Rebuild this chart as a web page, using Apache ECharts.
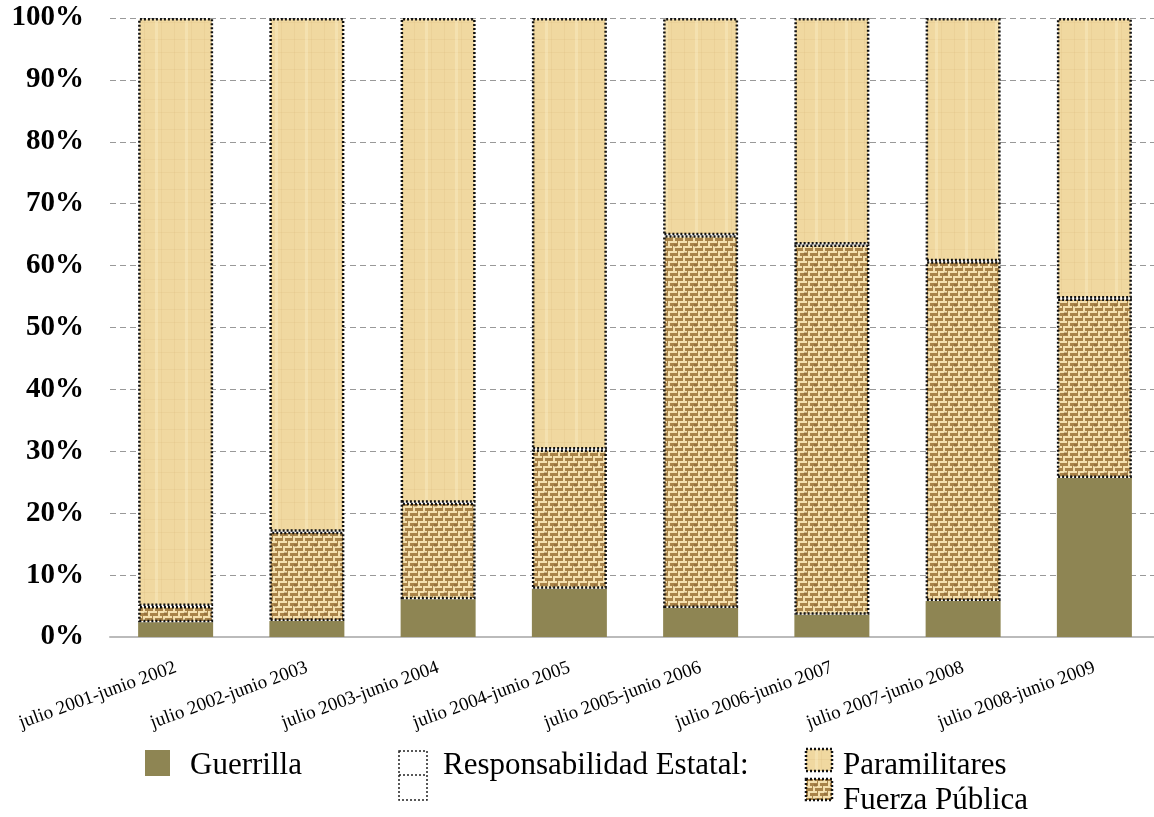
<!DOCTYPE html>
<html><head><meta charset="utf-8">
<script src="https://cdn.jsdelivr.net/npm/echarts@6/dist/echarts.min.js"></script>
<style>html,body{margin:0;padding:0;background:#fff}#c{width:1154px;height:817px}</style>
</head><body><div id="c"></div>
<script>
var categories = ['julio 2001-junio 2002','julio 2002-junio 2003','julio 2003-junio 2004','julio 2004-junio 2005','julio 2005-junio 2006','julio 2006-junio 2007','julio 2007-junio 2008','julio 2008-junio 2009'];
var guerrilla = [2.4, 2.6, 6.1, 7.8, 4.7, 3.6, 5.8, 25.7];
var fuerzaPublica = [2.6, 14.4, 15.6, 22.5, 60.2, 59.8, 54.9, 29.0];
var paramilitares = [95.0, 83.0, 78.3, 69.7, 35.1, 36.6, 39.3, 45.3];
var yTicks = [0,10,20,30,40,50,60,70,80,90,100];

function weave(){
  var S = 20, c = document.createElement('canvas'); c.width = S; c.height = S;
  var g = c.getContext('2d');
  g.fillStyle = '#A98349'; g.fillRect(0,0,S,S);
  function r(x,y,w,h){
    for (var dx=-S; dx<=S; dx+=S) for (var dy=-S; dy<=S; dy+=S) g.fillRect(x+dx,y+dy,w,h);
  }
  g.fillStyle = '#F4E0AE';
  for (var row=0; row<4; row++){
    var y0 = row*5, x0 = row*5;
    r(x0, y0+1, 7, 2);
    r(x0+8, y0+1, 2, 7);
    r(x0+10, y0+1, 7, 2);
    r(x0+18, y0+1, 2, 7);
  }
  g.fillStyle = 'rgba(110,75,35,0.3)';
  g.fillRect(4,12,3,3); g.fillRect(14,4,3,3);
  return c;
}
function parch(){
  var c = document.createElement('canvas'); c.width = 30; c.height = 30;
  var g = c.getContext('2d');
  g.fillStyle = '#F0D8A0'; g.fillRect(0,0,30,30);
  g.fillStyle = 'rgba(215,180,115,0.18)';
  g.fillRect(0,9,30,1); g.fillRect(0,22,30,1); g.fillRect(11,0,1,30); g.fillRect(24,0,1,30);
  g.fillStyle = 'rgba(255,245,215,0.3)';
  g.fillRect(5,0,3,30);
  return c;
}
var weaveImg = weave(), parchImg = parch();
var olive = '#8E8553';
var serif = '"Liberation Serif","Times New Roman",serif';

var chart = echarts.init(document.getElementById('c'));
chart.setOption({
  animation: false,
  grid: {left: 110, top: 18, width: 1050, height: 619, outerBoundsMode: 'none', containLabel: false},
  xAxis: {
    type: 'category', data: categories,
    axisLine: {lineStyle: {color: '#BBBBBB', width: 2}},
    axisTick: {show: false},
    axisLabel: {rotate: 20, interval: 0, fontFamily: serif, fontSize: 19, color: '#000', margin: 30, align: 'right', verticalAlign: 'middle'}
  },
  yAxis: {
    type: 'value', min: 0, max: 100, interval: 10,
    axisLine: {show: false}, axisTick: {show: false},
    axisLabel: {formatter: '{value}%', fontFamily: serif, fontWeight: 'bold', fontSize: 29, color: '#000', margin: 26},
    splitLine: {lineStyle: {type: [6, 4], color: '#999999', width: 1}}
  },
  series: [
    {name: 'Guerrilla', type: 'bar', stack: 's', data: guerrilla, barWidth: 75,
     itemStyle: {color: olive}},
    {name: 'Fuerza Pública', type: 'bar', stack: 's', data: fuerzaPublica, barWidth: 75,
     itemStyle: {color: {image: weaveImg, repeat: 'repeat'}, borderColor: '#111', borderWidth: 2.5, borderType: [2, 2]}},
    {name: 'Paramilitares', type: 'bar', stack: 's', data: paramilitares, barWidth: 75,
     itemStyle: {color: {image: parchImg, repeat: 'repeat'}, borderColor: '#111', borderWidth: 2.5, borderType: [2, 2]}}
  ],
  graphic: [
    {type: 'rect', shape: {x: 145, y: 750, width: 25, height: 26}, style: {fill: olive}},
    {type: 'text', style: {x: 190, y: 766, text: 'Guerrilla', font: '31px ' + serif, fill: '#000', verticalAlign: 'middle'}},
    {type: 'rect', shape: {x: 399, y: 751, width: 28, height: 49}, style: {fill: 'none', stroke: '#222', lineWidth: 1.5, lineDash: [2, 2]}},
    {type: 'line', shape: {x1: 399, y1: 775, x2: 427, y2: 775}, style: {stroke: '#222', lineWidth: 1.5, lineDash: [2, 2]}},
    {type: 'text', style: {x: 443, y: 766, text: 'Responsabilidad Estatal:', font: '31px ' + serif, fill: '#000', verticalAlign: 'middle'}},
    {type: 'rect', shape: {x: 806, y: 749, width: 26, height: 22}, style: {fill: {image: parchImg, repeat: 'repeat'}, stroke: '#111', lineWidth: 2.5, lineDash: [2, 2]}},
    {type: 'text', style: {x: 843, y: 766, text: 'Paramilitares', font: '31px ' + serif, fill: '#000', verticalAlign: 'middle'}},
    {type: 'rect', shape: {x: 806, y: 779, width: 26, height: 21}, style: {fill: {image: weaveImg, repeat: 'repeat'}, stroke: '#111', lineWidth: 2.5, lineDash: [2, 2]}},
    {type: 'text', style: {x: 843, y: 801, text: 'Fuerza Pública', font: '31px ' + serif, fill: '#000', verticalAlign: 'middle'}}
  ]
});
</script></body></html>
